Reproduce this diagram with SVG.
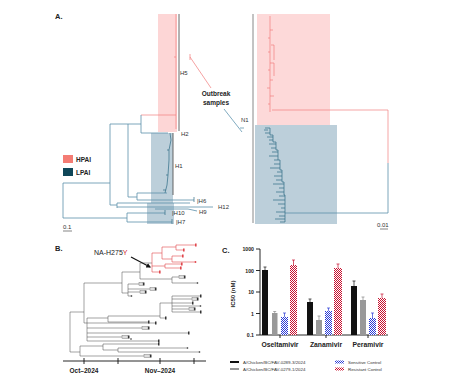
<svg xmlns="http://www.w3.org/2000/svg" width="467" height="378" viewBox="0 0 467 378">
<defs>
<style>
text{font-family:"Liberation Sans",Arial,sans-serif;fill:#222}
.pl{font-weight:bold;font-size:7.5px}
.hl{font-size:6px;fill:#333}
.tb{fill:none;stroke:#5a8faa;stroke-width:0.8}
.td{fill:none;stroke:#2e6b85;stroke-width:0.7}
.tp{fill:none;stroke:#f08080;stroke-width:0.7}
.bk{fill:none;stroke:#444;stroke-width:0.5}
.rd{fill:none;stroke:#e0474c;stroke-width:0.6}
.bx{fill:#333}
.rbx{fill:#e0474c}
.gb{fill:#ddd;stroke:#666;stroke-width:0.4}
.ax{fill:none;stroke:#111;stroke-width:0.9}
.er{fill:none;stroke-width:0.7}
.cat{font-weight:bold;font-size:6.8px}
.tk{font-size:5.2px;font-weight:bold}
.lg{font-size:4.4px;fill:#333}
</style>
<pattern id="pb" width="2" height="2" patternUnits="userSpaceOnUse"><rect width="2" height="2" fill="#fff"/><rect width="1" height="1" fill="#2a3bd6"/><rect x="1" y="1" width="1" height="1" fill="#2a3bd6"/></pattern>
<pattern id="pr" width="2" height="2" patternUnits="userSpaceOnUse"><rect width="2" height="2" fill="#fff"/><rect width="1" height="1" fill="#c8102e"/><rect x="1" y="1" width="1" height="1" fill="#c8102e"/></pattern>
<marker id="ah" markerWidth="4" markerHeight="4" refX="3" refY="2" orient="auto"><path d="M0,0 L4,2 L0,4 Z" fill="#111"/></marker>
</defs>
<rect width="467" height="378" fill="#fff"/>

<g id="panelA">
<text class="pl" x="55" y="19">A.</text>
<g id="treeA-left">
<rect x="158" y="14" width="19" height="118" fill="#fdd6d6"/>
<rect x="151" y="133" width="22" height="70" fill="#bccfda"/>
<rect x="147" y="203" width="27" height="21" fill="#bccfda"/>
<line x1="179" y1="14" x2="179" y2="131" stroke="#555" stroke-width="0.9"/>
<line x1="173" y1="133" x2="173" y2="195" stroke="#555" stroke-width="0.9"/>
<path class="tp" d="M176,14 V129 M176,57 h-2 M141,115 H176"/>
<path class="tb" d="M63,183 V218 M63,183 H110 M110,124 V205 M110,124 H141 M128,124 V197 M141,115 V133 M141,133 H168 M128,197 H137 M137,193 V200 M137,193 H167 M137,200 H194 M110,205 H117 M117,203 V208 M117,203 H190 M117,207 H213 M155,209 H188 L197,211 M63,218 H127 M127,213 V222 M127,213 H165 M127,222 H172"/>
<path class="td" d="M170,133 L171,140 L169,150 L169,160 L168,175 L167,185 L165,193 M169,150 h-2 M168,175 h-2 M166,190 h-3 M194,197 V202 M165,210 V215 M172,219 V224"/>
<text class="hl" x="180" y="75">H5</text>
<text class="hl" x="181" y="136">H2</text>
<text class="hl" x="175" y="168">H1</text>
<text class="hl" x="197" y="203">|H6</text>
<text class="hl" x="218" y="209">H12</text>
<text class="hl" x="199" y="214">H9</text>
<text class="hl" x="172" y="215">|H10</text>
<text class="hl" x="176" y="224">|H7</text>
<text class="hl" x="63" y="229">0.1</text>
<line x1="63" y1="231" x2="72" y2="231" stroke="#333" stroke-width="0.6"/>
</g>
<g id="legendA">
<rect x="63" y="155" width="10" height="8" fill="#f47c74"/>
<text x="76" y="162" style="font-size:6.5px;font-weight:bold">HPAI</text>
<rect x="63" y="168" width="10" height="8" fill="#0e4658"/>
<text x="76" y="175" style="font-size:6.5px;font-weight:bold">LPAI</text>
</g>
<g id="outbreak">
<text x="216" y="96" text-anchor="middle" style="font-size:6.5px;font-weight:bold">Outbreak</text>
<text x="216" y="105" text-anchor="middle" style="font-size:6.5px;font-weight:bold">samples</text>
<path d="M190,54 V60 M190,57 L211,88" fill="none" stroke="#f07a7a" stroke-width="0.7"/>
<path d="M224,109 L242,132 M240,128 h4" fill="none" stroke="#4a86a5" stroke-width="0.7"/>
</g>
<g id="treeA-right">
<rect x="257" y="14" width="73" height="111" fill="#fdd9d9"/>
<rect x="255" y="125" width="82" height="99" fill="#bccfda"/>
<line x1="253" y1="14" x2="253" y2="223" stroke="#888" stroke-width="1"/>
<text class="hl" x="241" y="122">N1</text>
<path class="tp" d="M270,16 V112 M270,30 h3 M270,38 h-2 M271,45 h3 V60 M270,52 h-2 M270,63 h4 V76 M270,70 h-2 M270,80 h3 M270,88 h-3 M270,96 h4 M270,104 h-2 M272,110 H388 V163"/>
<path class="tb" d="M388,163 V213 H285"/>
<path class="td" d="M265,128 H270 V135 H273 V142 H276 V150 H278 V160 H280 V170 H282 V182 H284 V195 H285 V222 M268,130 h-4 M270,133 h-5 M273,137 h-6 M273,140 h-4 M276,144 h-7 M276,148 h-5 M278,152 h-6 M278,156 h-9 M278,160 h-4 M280,164 h-6 M280,168 h-10 M282,172 h-5 M282,176 h-8 M282,180 h-6 M284,184 h-11 M284,188 h-5 M284,192 h-8 M285,196 h-6 M285,200 h-12 M285,204 h-7 M285,208 h-4 M285,212 h-9 M285,216 h-6 M285,219 h-10 M285,222 h-5"/>
<text class="hl" x="377" y="227">0.01</text>
<line x1="380" y1="229" x2="388" y2="229" stroke="#333" stroke-width="0.6"/>
</g>
</g>

<g id="panelB">
<text class="pl" x="55" y="251">B.</text>
<text x="94" y="255" style="font-size:7px">NA-H275<tspan fill="#d0202a">Y</tspan></text>
<line x1="131" y1="257" x2="150" y2="267" stroke="#111" stroke-width="1.2" marker-end="url(#ah)"/>
<path class="bk" d="M70,312 V352 M70,312 H84 M84,283 V323 M84,283 H122 M122,272 V293 M122,272 H140 M140,263 V279 M140,263 H152 M140,279 H172 M172,277 V283 M172,277 H184 M172,283 H197 M122,293 H128 M128,284 V296 M128,284 H143 M128,289 H155 M128,292 H145 M128,296 H131 M84,323 H87 M87,318 V341 M87,318 H108 M108,316 V322 M108,322 H148 M108,316 H160 M160,303 V318 M160,318 H165 M160,303 H172 M172,296 V312 M172,296 H200 M172,299 H197 M172,303 H192 M172,306 H200 M172,309 H194 M172,312 H200 M87,323 H155 M87,328 H148 M87,333 H188 M87,337 H128 M87,341 H158 M70,352 H80 M80,346 V356 M80,346 H103 M103,344 V350 M103,344 H158 M103,350 H118 M118,348 V352 M118,348 H187 M118,352 H199 M80,356 H150"/>
<path class="rd" d="M152,253 V272 M152,253 H162 M162,247 V259 M162,247 H176 M176,245 V250 M176,245 H195 M176,250 H183 M162,259 H172 M172,256 V262 M172,256 H182 M172,262 H195 M152,266 H165 M165,264 V268 M165,264 H181 M165,268 H180 M152,272 H159"/>
<g id="tipsB">
<rect class="gb" x="139" y="282.5" width="4" height="3"/><rect class="bx" x="143" y="282.5" width="1.5" height="3"/>
<rect class="gb" x="150" y="287.5" width="5" height="3"/><rect class="bx" x="155" y="287.5" width="1.5" height="3"/>
<rect class="gb" x="140" y="290.5" width="5" height="3"/><rect class="bx" x="145" y="290.5" width="1.5" height="3"/>
<circle cx="131.5" cy="296" r="0.8" fill="#222"/>
<rect class="gb" x="179" y="275.5" width="5" height="3"/><rect class="bx" x="184" y="275.5" width="1.5" height="3"/>
<circle cx="197.5" cy="283" r="0.8" fill="#222"/>
<rect class="rbx" x="195" y="243.5" width="1.6" height="3"/>
<rect class="rbx" x="183" y="248.5" width="1.6" height="3"/>
<rect class="rbx" x="182" y="254.5" width="1.6" height="3"/>
<circle cx="195.5" cy="262" r="0.9" fill="#e0474c"/>
<rect class="rbx" x="181" y="262.5" width="1.6" height="3"/>
<rect class="rbx" x="180" y="266.5" width="1.6" height="3"/>
<rect class="rbx" x="159" y="270.5" width="1.6" height="3"/>
<rect class="bx" x="200" y="294.5" width="1.5" height="3"/>
<rect class="gb" x="192" y="297.5" width="5" height="3"/><rect class="bx" x="197" y="297.5" width="1.5" height="3"/>
<rect class="bx" x="192" y="301.5" width="1.5" height="3"/>
<circle cx="200.5" cy="306" r="0.8" fill="#222"/>
<rect class="gb" x="189" y="307.5" width="5" height="3"/><rect class="bx" x="194" y="307.5" width="1.5" height="3"/>
<rect class="bx" x="200" y="310.5" width="1.5" height="3"/>
<rect class="bx" x="165" y="316.5" width="1.5" height="3"/>
<rect class="bx" x="148" y="320.5" width="1.5" height="3"/>
<rect class="bx" x="155" y="321.5" width="1.5" height="3"/>
<rect class="gb" x="142" y="326.5" width="6" height="3"/><rect class="bx" x="148" y="326.5" width="1.5" height="3"/>
<rect class="bx" x="188" y="331.5" width="1.5" height="3"/>
<rect class="gb" x="122" y="335.5" width="6" height="3"/><rect class="bx" x="128" y="335.5" width="1.5" height="3"/>
<circle cx="131" cy="339" r="0.8" fill="#222"/>
<rect class="bx" x="158" y="339.5" width="1.5" height="3"/>
<rect class="bx" x="158" y="342.5" width="1.5" height="3"/>
<circle cx="187.5" cy="348" r="0.8" fill="#222"/>
<circle cx="199.5" cy="352" r="0.8" fill="#222"/>
<rect class="gb" x="144" y="354.5" width="6" height="3"/><rect class="bx" x="150" y="354.5" width="1.5" height="3"/>
</g>
<g id="axisB">
<path d="M63,361 H206 M84,358 V364 M118,358 V364 M160,358 V364 M194,358 V364" fill="none" stroke="#111" stroke-width="0.9"/>
<text x="84" y="373" text-anchor="middle" style="font-size:6.5px;font-weight:bold">Oct–2024</text>
<text x="160" y="373" text-anchor="middle" style="font-size:6.5px;font-weight:bold">Nov–2024</text>
</g>
</g>

<g id="panelC">
<text class="pl" x="222" y="253">C.</text>
<text transform="translate(235,294) rotate(-90)" text-anchor="middle" style="font-size:6px;font-weight:bold">IC50  (nM)</text>
<g id="yaxis">
<path class="ax" d="M260,249 V335 H388 M256,249 H260 M256,270.5 H260 M256,292 H260 M256,313.5 H260 M256,335 H260 M280,335 V338 M326,335 V338 M368,335 V338"/>
<text class="tk" x="254" y="251" text-anchor="end">1000</text>
<text class="tk" x="254" y="272.5" text-anchor="end">100</text>
<text class="tk" x="254" y="294" text-anchor="end">10</text>
<text class="tk" x="254" y="315.5" text-anchor="end">1</text>
<text class="tk" x="254" y="337" text-anchor="end">0.1</text>
</g>
<g id="bars">
<rect x="262" y="270" width="6" height="65" fill="#111"/>
<rect x="272" y="313" width="5.5" height="22" fill="#999"/>
<rect x="281" y="317" width="7" height="18" fill="url(#pb)"/>
<rect x="290" y="265" width="7" height="70" fill="url(#pr)"/>
<rect x="307" y="302" width="6" height="33" fill="#111"/>
<rect x="316" y="320" width="6" height="15" fill="#999"/>
<rect x="325" y="311" width="7" height="24" fill="url(#pb)"/>
<rect x="334" y="268" width="8" height="67" fill="url(#pr)"/>
<rect x="351" y="286" width="6" height="49" fill="#111"/>
<rect x="360" y="300" width="6" height="35" fill="#999"/>
<rect x="369" y="318" width="7" height="17" fill="url(#pb)"/>
<rect x="378" y="298" width="8" height="37" fill="url(#pr)"/>
<path class="er" stroke="#111" d="M265,270 V267 M263.5,267 H266.5 M310,302 V299 M308.5,299 H311.5 M354,286 V281 M352.5,281 H355.5"/>
<path class="er" stroke="#888" d="M274.7,313 V311.5 M273.2,311.5 H276.2 M319,320 V316 M317.5,316 H320.5 M363,300 V297 M361.5,297 H364.5"/>
<path class="er" stroke="#2a3bd6" d="M284.5,317 V313 M283,313 H286 M328.5,311 V308 M327,308 H330 M372.5,318 V313 M371,313 H374"/>
<path class="er" stroke="#c8102e" d="M293.5,265 V260 M292,260 H295 M338,268 V264 M336.5,264 H339.5 M382,298 V294 M380.5,294 H383.5"/>
</g>
<text class="cat" x="280" y="347" text-anchor="middle">Oseltamivir</text>
<text class="cat" x="326" y="347" text-anchor="middle">Zanamivir</text>
<text class="cat" x="368" y="347" text-anchor="middle">Peramivir</text>
<g id="legendC">
<rect x="230" y="361" width="9" height="2" fill="#111"/>
<text class="lg" x="243" y="363.5">A/Chicken/BC/FAV-0289-3/2024</text>
<rect x="230" y="368" width="9" height="2" fill="#999"/>
<text class="lg" x="243" y="370.5">A/Chicken/BC/FAV-0279-1/2024</text>
<rect x="335" y="360.5" width="9" height="3" fill="url(#pb)"/>
<text class="lg" x="348" y="363.5">Sensitive Control</text>
<rect x="335" y="367.5" width="9" height="3" fill="url(#pr)"/>
<text class="lg" x="348" y="370.5">Resistant Control</text>
</g>
</g>
</svg>
